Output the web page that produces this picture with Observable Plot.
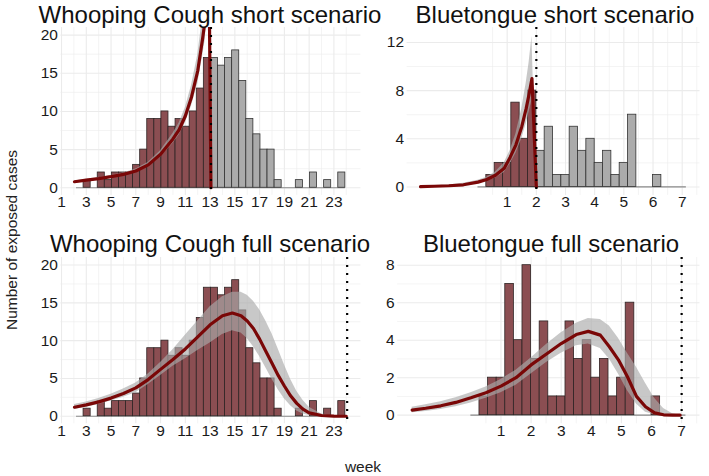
<!DOCTYPE html>
<html><head><meta charset="utf-8">
<script src="https://cdn.jsdelivr.net/npm/d3@7"></script>
<script src="https://cdn.jsdelivr.net/npm/@observablehq/plot@0.6"></script>
<style>
body{margin:0;background:#fff;font-family:"Liberation Sans",Arial,sans-serif;}
#fig{position:relative;width:709px;height:476px;overflow:hidden;background:#fff;}
#fig svg.panel{position:absolute;}
#fig svg.panel text{font-size:15.5px;font-family:"Liberation Sans",Arial,sans-serif;fill:#1a1a1a;}
#overlay{position:absolute;left:0;top:0;pointer-events:none;}
</style></head><body><div id="fig"></div>
<script>
// ---------------- DATA ----------------
// Whooping cough: weekly histogram, 4-day bins starting at week 2.21
const wcBinStartWeek = 2.21;
const wcBinWidthDays = 4;
const wcCounts = [0,1,0,2,1,2,2,2,3,5, 9,9,10,8,9,8,10,13,17, 17,16,17,18,14,9,7,5,5,1, 0,0,1,0,2,0,1,0,2];
const wcShortCutoff = 13.07;
const wcFullCutoff = 24.07;
const wcXTicks = [1,3,5,7,9,11,13,15,17,19,21,23];
const wcYTicks = [0,5,10,15,20];

// Whooping cough short scenario fit (week, fit, lower, upper)
const wcShortWeek = [2.05, 3, 4, 5, 6, 7, 8, 9, 10, 10.5, 11, 11.5, 12, 12.4, 12.6, 12.75, 12.9];
const wcShortFit  = [0.79, 1.0, 1.2, 1.45, 1.75, 2.2, 3.0, 4.4, 6.4, 7.6, 9.4, 11.9, 15.3, 19.6, 22, 26, 31];
const wcShortLo   = [0.7, 0.9, 1.1, 1.33, 1.6, 2.0, 2.75, 4.0, 5.8, 6.9, 8.5, 10.7, 13.6, 17.3, 19.3, 22.5, 27];
const wcShortHi   = [0.9, 1.1, 1.32, 1.6, 1.95, 2.45, 3.3, 4.85, 7.1, 8.5, 10.5, 13.4, 17.4, 22.4, 25.5, 30, 36];

// Whooping cough full scenario fit
const wcFullWeek = [2.05, 3, 4, 5, 6, 7, 8, 9, 10, 11, 12, 13, 14, 14.8, 15.5, 16, 16.5, 17, 17.5, 18, 18.5, 19, 19.5, 20, 20.5, 21, 22, 23, 24];
const wcFullFit  = [1.19, 1.5, 1.9, 2.4, 3.0, 3.75, 4.85, 6.2, 7.5, 8.9, 10.5, 12.1, 13.3, 13.65, 13.3, 12.6, 11.6, 10.2, 8.6, 7.0, 5.4, 4.0, 2.7, 1.7, 0.95, 0.45, 0.1, 0.01, 0];
const wcFullLo   = [0.9, 1.2, 1.55, 2.0, 2.5, 3.1, 4.2, 5.4, 6.6, 7.6, 8.7, 9.7, 10.8, 11.3, 11.0, 10.3, 9.2, 7.9, 6.4, 4.9, 3.5, 2.3, 1.4, 0.7, 0.3, 0.1, 0, 0, 0];
const wcFullHi   = [1.55, 1.9, 2.35, 2.9, 3.6, 4.4, 5.6, 7.1, 8.8, 10.7, 12.6, 14.5, 15.8, 16.4, 16.4, 16.0, 15.2, 14.1, 12.6, 10.9, 8.9, 6.8, 4.9, 3.3, 2.1, 1.2, 0.3, 0.05, 0];

// Bluetongue: 2-day bins starting at week 0
const btBinStartWeek = 0;
const btBinWidthDays = 2;
const btCounts = [0,1,2,2,7,4,8, 3,5,1,1,5,3,4,2,3,1,2,6, 0,0,1,0,0,0];
const btShortCutoff = 2.0;
const btFullCutoff = 7.0;
const btXTicks = [1,2,3,4,5,6,7];
const btShortYTicks = [0,4,8,12];
const btFullYTicks = [0,2,4,6,8];

// Bluetongue short scenario fit
const btShortWeek = [-1.97, -1.5, -1, -0.5, 0, 0.3, 0.6, 0.9, 1.1, 1.3, 1.5, 1.65, 1.75, 1.85, 2.0];
const btShortFit  = [0.03, 0.06, 0.1, 0.18, 0.4, 0.62, 0.97, 1.55, 2.45, 3.5, 5.0, 6.5, 7.7, 9.0, 0];
const btShortLo   = [0.01, 0.03, 0.06, 0.12, 0.28, 0.45, 0.75, 1.2, 1.9, 2.8, 4.0, 5.2, 6.2, 7.2, 0];
const btShortHi   = [0.06, 0.1, 0.17, 0.3, 0.55, 0.8, 1.25, 2.0, 3.0, 4.4, 6.5, 8.6, 10.3, 12.5, 0];

// Bluetongue full scenario fit
const btFullWeek = [-1.95, -1.5, -1, -0.5, 0, 0.5, 1, 1.5, 2, 2.5, 3, 3.5, 3.9, 4.3, 4.6, 4.9, 5.2, 5.5, 5.8, 6.1, 6.4, 6.7, 6.95];
const btFullFit  = [0.27, 0.37, 0.5, 0.68, 0.93, 1.2, 1.55, 2.0, 2.68, 3.25, 3.82, 4.3, 4.47, 4.27, 3.65, 2.95, 2.05, 1.0, 0.45, 0.12, 0.02, 0, 0];
const btFullLo   = [0.13, 0.2, 0.3, 0.45, 0.65, 0.9, 1.2, 1.6, 2.2, 2.8, 3.3, 3.7, 3.8, 3.55, 3.0, 2.2, 1.3, 0.6, 0.15, 0.02, 0, 0, 0];
const btFullHi   = [0.42, 0.55, 0.72, 0.93, 1.2, 1.5, 1.9, 2.4, 3.05, 3.75, 4.4, 4.9, 5.15, 5.1, 4.75, 4.1, 3.3, 2.55, 1.7, 0.9, 0.35, 0.08, 0];

const titles = ["Whooping Cough short scenario", "Bluetongue short scenario", "Whooping Cough full scenario", "Bluetongue full scenario"];
const yAxisTitle = "Number of exposed cases";
const xAxisTitle = "week";

// ---------------- BUILD ----------------
const FONT = "'Liberation Sans', Arial, sans-serif";
const MAROON = "#8b4e52", GREYBAR = "#ababab", LINE = "#7a0707";

function bins(counts, start, widthDays, cutoff) {
  const w = widthDays / 7;
  return counts.map((c, i) => ({x1: start + i * w, x2: start + (i + 1) * w, count: c, before: start + (i + 1) * w <= cutoff + 1e-6}));
}
function curve(week, fit, lo, hi) {
  return week.map((w, i) => ({week: w, fit: fit[i], lo: lo[i], hi: hi[i]}));
}
function range(a, b, step) { const r = []; for (let v = a; v <= b + 1e-9; v += step) r.push(+v.toFixed(4)); return r; }

function panel(o) {
  const bs = o.bins;
  const marks = [
    Plot.ruleX(o.xMinor, {stroke: "#ededed", strokeWidth: 0.6}),
    Plot.ruleX(o.xMajor, {stroke: "#ebebeb", strokeWidth: 1.1}),
    Plot.ruleY(o.yMinor, {stroke: "#ededed", strokeWidth: 0.6}),
    Plot.ruleY(o.yMajor, {stroke: "#ebebeb", strokeWidth: 1.1}),
    Plot.axisX({ticks: o.xMajor, tickSize: 0, tickPadding: 1, fontSize: 15.5}),
    Plot.axisY({ticks: o.yMajor, tickSize: 0, tickPadding: 3, fontSize: 15.5}),
    Plot.ruleY([0], {x1: bs[0].x1, x2: bs[bs.length - 1].x2, stroke: "#8a8a8a", strokeWidth: 1.2}),
    Plot.rect(bs.filter(d => d.count > 0 && (o.allMaroon || d.before)), {x1: "x1", x2: "x2", y1: d => 0, y2: "count", fill: MAROON, stroke: "#2e2424", strokeWidth: 0.8}),
    Plot.rect(bs.filter(d => d.count > 0 && !(o.allMaroon || d.before)), {x1: "x1", x2: "x2", y1: d => 0, y2: "count", fill: GREYBAR, stroke: "#333", strokeWidth: 0.8}),
    Plot.areaY(o.curve, {x: "week", y1: "lo", y2: "hi", fill: "#aaaaaa", fillOpacity: 0.65, clip: true}),
    Plot.line(o.curve, {x: "week", y: "fit", stroke: LINE, strokeWidth: 3.2, clip: true}),
    Plot.ruleX([o.cutoff], {stroke: "#000", strokeWidth: 2.2, strokeDasharray: "2 6"})
  ];
  const svg = Plot.plot({
    width: o.width, height: o.height,
    marginLeft: o.mL, marginRight: o.mR, marginTop: 0, marginBottom: o.mB,
    style: {fontFamily: FONT, fontSize: "15.5px", color: "#1a1a1a", background: "transparent", overflow: "visible"},
    x: {domain: o.xDomain},
    y: {domain: o.yDomain},
    marks
  });
  svg.classList.add("panel");
  svg.style.left = o.left + "px";
  svg.style.top = o.top + "px";
  return svg;
}

const fig = document.getElementById("fig");
const wcBins = bins(wcCounts, wcBinStartWeek, wcBinWidthDays, wcShortCutoff);
const btBins = bins(btCounts, btBinStartWeek, btBinWidthDays, btShortCutoff);

const wcX = {xDomain: [0.95, 25.18], xMajor: wcXTicks, xMinor: range(2, 24, 2)};
const btX = {xDomain: [-2.43, 7.61], xMajor: btXTicks, xMinor: range(0.5, 7.5, 1)};

// WC short
fig.appendChild(panel({...wcX, left: 0, top: 27.4, width: 365, height: 167.9 + 24, mL: 60.4, mR: 4.6, mB: 24,
  yDomain: [-1, 21], yMajor: wcYTicks, yMinor: [2.5, 7.5, 12.5, 17.5],
  bins: wcBins, allMaroon: false, cutoff: wcShortCutoff,
  curve: [...curve(wcShortWeek, wcShortFit, wcShortLo, wcShortHi), {week: wcShortCutoff, fit: 0, lo: 0, hi: 0}]}));
// BT short
fig.appendChild(panel({...btX, left: 355, top: 27.4, width: 354, height: 167.9 + 24, mL: 51.6, mR: 9.5, mB: 24,
  yDomain: [-0.7, 13.24], yMajor: btShortYTicks, yMinor: [2, 6, 10],
  bins: btBins, allMaroon: false, cutoff: btShortCutoff,
  curve: curve(btShortWeek, btShortFit, btShortLo, btShortHi)}));
// WC full
fig.appendChild(panel({...wcX, left: 0, top: 256.7, width: 365, height: 166.3 + 24, mL: 60.4, mR: 4.6, mB: 24,
  yDomain: [-1, 21], yMajor: wcYTicks, yMinor: [2.5, 7.5, 12.5, 17.5],
  bins: wcBins, allMaroon: true, cutoff: wcFullCutoff,
  curve: curve(wcFullWeek, wcFullFit, wcFullLo, wcFullHi)}));
// BT full
fig.appendChild(panel({...btX, left: 355, top: 256.7, width: 354, height: 166.3 + 24, mL: 42.2, mR: 9.5, mB: 24,
  yDomain: [-0.46, 8.41], yMajor: btFullYTicks, yMinor: [1, 3, 5, 7],
  bins: btBins, allMaroon: true, cutoff: btFullCutoff,
  curve: curve(btFullWeek, btFullFit, btFullLo, btFullHi)}));

// overlay texts
const ov = d3.select(fig).append("svg").attr("id", "overlay").attr("width", 709).attr("height", 476)
  .style("font-family", FONT);
const titlePos = [[210, 23], [555, 23], [210, 252], [551, 252]];
titles.forEach((t, i) => ov.append("text").attr("x", titlePos[i][0]).attr("y", titlePos[i][1])
  .attr("text-anchor", "middle").attr("font-size", 24).attr("fill", "#111").text(t));
ov.append("text").attr("transform", "translate(17,240) rotate(-90)").attr("text-anchor", "middle")
  .attr("font-size", 15.5).attr("fill", "#222").text(yAxisTitle);
ov.append("text").attr("x", 363).attr("y", 472).attr("text-anchor", "middle")
  .attr("font-size", 15.5).attr("fill", "#222").text(xAxisTitle);
</script></body></html>
